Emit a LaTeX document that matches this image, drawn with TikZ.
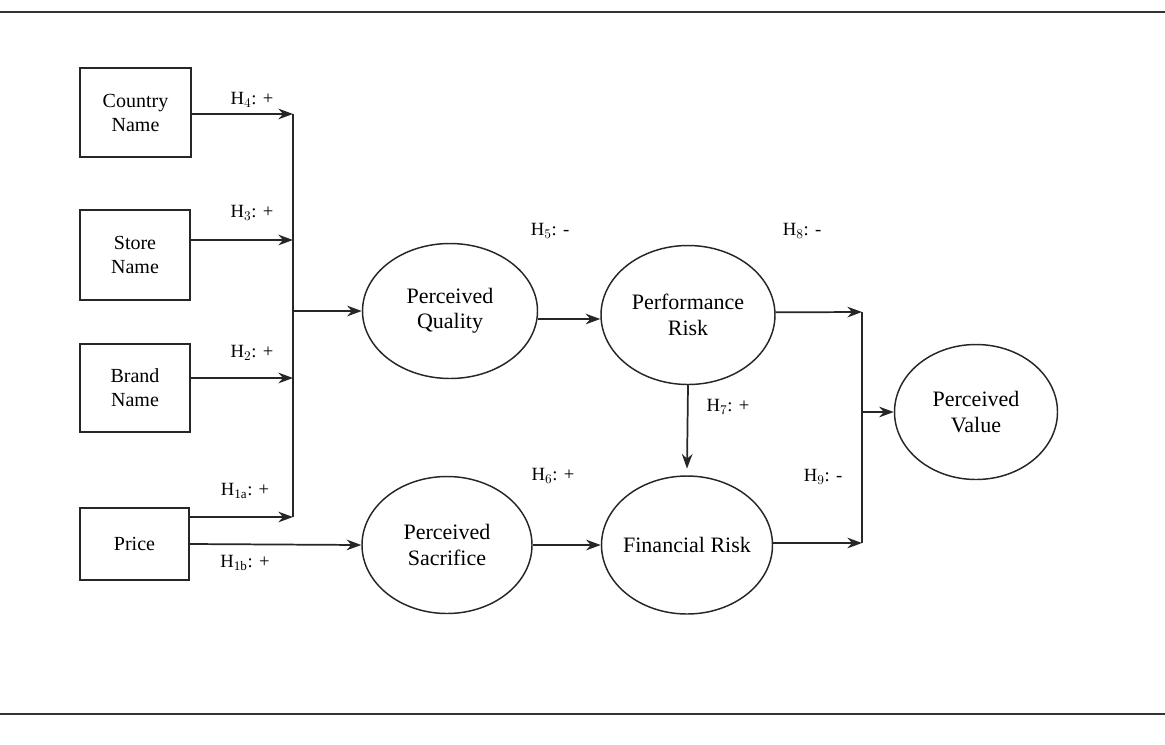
\documentclass[tikz,border=0pt]{standalone}
\usepackage{fontspec}
\setmainfont{Liberation Serif}
\usetikzlibrary{arrows.meta,shapes.geometric}
\begin{document}
\begin{tikzpicture}[x=0.75pt,y=-0.75pt,
  box/.style={draw=black!85,line width=1.3pt,rectangle,align=center,inner sep=0pt,font=\fontsize{15}{18}\selectfont},
  oval/.style={draw=black!85,line width=1.1pt,ellipse,align=center,inner sep=0pt,font=\fontsize{16.5}{19}\selectfont},
  conn/.style={draw=black!85,line width=1.3pt},
  arr/.style={conn,-{Stealth[length=11pt,width=8pt]}},
  hlab/.style={font=\fontsize{14}{16}\selectfont,inner sep=0pt},
  rule/.style={draw=black!80,line width=2.2pt}]
\useasboundingbox (0,0) rectangle (1165,744);
\coordinate (r1a) at (0,12); \coordinate (r1b) at (1165,12);
\coordinate (r2a) at (0,714); \coordinate (r2b) at (1165,714);
\draw[rule] (r1a) -- (r1b);
\draw[rule] (r2a) -- (r2b);
% boxes
\node[box,minimum width=111*0.75pt,minimum height=89*0.75pt] (country) at (135.5,112.5) {Country\\Name};
\node[box,minimum width=110*0.75pt,minimum height=90*0.75pt] (store) at (135,255) {Store\\Name};
\node[box,minimum width=110*0.75pt,minimum height=88*0.75pt] (brand) at (135,388) {Brand\\Name};
\node[box,minimum width=109*0.75pt,minimum height=72*0.75pt] (price) at (134.5,544) {Price};
% ellipses
\node[oval,minimum width=175*0.75pt,minimum height=135*0.75pt] (pq) at (450,311) {Perceived\\Quality};
\node[oval,minimum width=174*0.75pt,minimum height=139*0.75pt] (pr) at (688,315) {Performance\\Risk};
\node[oval,minimum width=170*0.75pt,minimum height=137*0.75pt] (ps) at (447,545) {Perceived\\Sacrifice};
\node[oval,minimum width=171*0.75pt,minimum height=138*0.75pt,inner xsep=-14pt] (fr) at (687,545) {Financial Risk};
\node[oval,minimum width=163*0.75pt,minimum height=135*0.75pt] (pv) at (976,412) {Perceived\\Value};
% junction coordinates
\coordinate (jtop) at (293,114);
\coordinate (jbot) at (293,517);
\coordinate (jmid) at (293,311);
\coordinate (rtop) at (862,312);
\coordinate (rbot) at (862,543);
\coordinate (rmid) at (862,412);
% left side
\draw[arr] ([yshift=-1.1pt]country.east) -- ([yshift=-1.1pt]country.east -| jtop);
\draw[arr] ([yshift=11.25pt]store.east) -- ([yshift=11.25pt]store.east -| jtop);
\draw[arr] ([yshift=7.5pt]brand.east) -- ([yshift=7.5pt]brand.east -| jtop);
\draw[arr] ([yshift=20.25pt]price.east) -- (jbot);
\draw[conn] (jtop) -- (jbot);
\draw[arr] (jmid) -- (pq.west);
\draw[arr] (price.east) -- (ps.west);
% middle
\draw[arr] ([yshift=-6pt]pq.east) -- ([yshift=-6pt]pq.east -| pr.west);
\draw[arr] (ps.east) -- (fr.west);
\draw[arr] (pr.south) -- ([yshift=5pt]fr.north);
% right
\draw[arr] ([yshift=2pt]pr.east) -- (rtop);
\draw[arr] ([yshift=1.5pt]fr.east) -- (rbot);
\draw[conn] (rtop) -- (rbot);
\draw[arr] (rmid) -- (pv.west);
% labels
\node[hlab] (h4) at (252,100) {H$_4$: +};
\node[hlab] (h3) at (252,213) {H$_3$: +};
\node[hlab] (h2) at (252,353) {H$_2$: +};
\node[hlab] (h1a) at (245,491) {H$_{\mathrm{1a}}$: +};
\node[hlab] (h1b) at (245,563) {H$_{\mathrm{1b}}$: +};
\node[hlab] (h5) at (550,231) {H$_5$: -};
\node[hlab] (h8) at (802,231) {H$_8$: -};
\node[hlab] (h7) at (728,407) {H$_7$: +};
\node[hlab] (h6) at (553,476) {H$_6$: +};
\node[hlab] (h9) at (823,477) {H$_9$: -};
\end{tikzpicture}
\end{document}
